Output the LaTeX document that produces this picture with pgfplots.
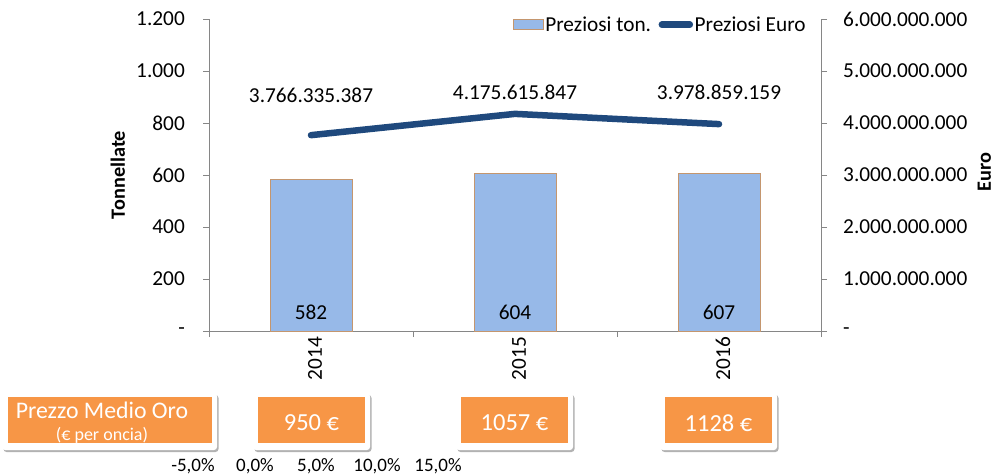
\documentclass[border=0pt]{standalone}
\usepackage{pgfplots}
\pgfplotsset{compat=1.18}
\usepackage{fontspec}
\setmainfont{Carlito}
\usetikzlibrary{shadows}

\definecolor{barblue}{RGB}{151,185,232}
\definecolor{baredge}{RGB}{196,150,110}
\definecolor{lineblue}{RGB}{31,73,125}
\definecolor{boxorange}{RGB}{247,150,70}
\definecolor{axisgray}{RGB}{134,134,134}

\begin{document}
\begin{tikzpicture}[x=1pt,y=1pt]
\path[use as bounding box] (0,0) rectangle (997,475);
\begin{axis}[
  at={(209pt,144pt)}, anchor=south west,
  scale only axis, width=612pt, height=312pt,
  xmin=-0.5, xmax=2.5, ymin=0, ymax=1200,
  axis y line*=left, axis x line*=bottom,
  axis line style={axisgray, line width=0.8pt},
  tick align=outside, major tick length=6pt,
  tick style={axisgray, line width=0.8pt},
  font=\fontsize{21.3}{25}\selectfont,
  x tick label as interval,
  xtick={-0.5,0.5,1.5,2.5},
  xticklabels={2014,2015,2016},
  xticklabel style={rotate=90, anchor=east, inner sep=0pt, yshift=-4pt},
  ytick={0,200,400,600,800,1000,1200},
  yticklabels={-\hspace{8pt},200,400,600,800,1.000,1.200},
  yticklabel style={anchor=east, inner sep=0pt, xshift=-18pt},
  scaled y ticks=false,
  ylabel={\bfseries Tonnellate},
  ylabel style={at={(axis description cs:-0.149,0.5)}, anchor=center, rotate=0,
    inner sep=0pt, font=\fontsize{20.3}{24}\selectfont},
]
\addplot[ybar, bar width=82pt, fill=barblue, draw=baredge, line width=1pt]
  coordinates {(0,582) (1,604) (2,607)};
\node at (axis cs:0,0) [yshift=19pt] {582};
\node at (axis cs:1,0) [yshift=19pt] {604};
\node at (axis cs:2,0) [yshift=19pt] {607};
\end{axis}
\begin{axis}[
  at={(209pt,144pt)}, anchor=south west,
  scale only axis, width=612pt, height=312pt,
  xmin=-0.5, xmax=2.5, ymin=0, ymax=6000000000,
  axis y line*=right, axis x line=none,
  axis line style={axisgray, line width=0.8pt},
  tick align=outside, major tick length=6pt,
  tick style={axisgray, line width=0.8pt},
  font=\fontsize{21.3}{25}\selectfont,
  ytick={0,1000000000,2000000000,3000000000,4000000000,5000000000,6000000000},
  yticklabels={-,1.000.000.000,2.000.000.000,3.000.000.000,4.000.000.000,5.000.000.000,6.000.000.000},
  yticklabel style={anchor=west, inner sep=0pt, xshift=16pt},
  scaled y ticks=false,
  ylabel={\bfseries Euro},
  ylabel style={at={(axis description cs:1.267,0.51)}, anchor=center, rotate=0,
    inner sep=0pt, font=\fontsize{20.3}{24}\selectfont},
  legend style={at={(axis description cs:0.496,1.013)}, anchor=north west,
    draw=none, fill=none, legend columns=2, inner sep=0pt,
    nodes={inner sep=1.5pt},
    /tikz/every even column/.append style={column sep=6pt}},
]
\addlegendimage{legend image code/.code={\draw[fill=barblue,draw=baredge,line width=1pt] (0pt,-5pt) rectangle (30pt,5pt);}}
\addlegendentry{Preziosi ton.}
\addplot[lineblue, line width=6.5pt, line cap=round, line join=round,
  legend image code/.code={\draw[lineblue,line width=6.5pt,line cap=round] (3pt,0pt) -- (31pt,0pt);}]
  coordinates {(0,3766335387) (1,4175615847) (2,3978859159)};
\addlegendentry{Preziosi Euro}
\node at (axis cs:0,4538000000) {3.766.335.387};
\node at (axis cs:1,4596000000) {4.175.615.847};
\node at (axis cs:2,4596000000) {3.978.859.159};
\end{axis}

% bottom boxes
\tikzset{frame/.style={fill=white, rounded corners=3pt,
  drop shadow={shadow xshift=1.5pt, shadow yshift=-2pt, opacity=0.3, fill=black}}}
\path[frame] (2,25) rectangle (217,82);
\fill[boxorange] (8,32) rectangle (212,78);
\node[white, font=\fontsize{23.8}{28}\selectfont] at (102,65) {Prezzo Medio Oro};
\node[white, font=\fontsize{18}{21}\selectfont] at (102,40) {(€ per oncia)};

\path[frame] (253,25) rectangle (370,82);
\fill[boxorange] (258,32) rectangle (365,78);
\node[white, font=\fontsize{24.5}{28}\selectfont] at (311.5,52) {950 €};

\path[frame] (456,25) rectangle (573,82);
\fill[boxorange] (461,32) rectangle (568,78);
\node[white, font=\fontsize{24.5}{28}\selectfont] at (514.5,52) {1057 €};

\path[frame] (660,25) rectangle (777,82);
\fill[boxorange] (665,32) rectangle (772,78);
\node[white, font=\fontsize{24.5}{28}\selectfont] at (718.5,52) {1128 €};

\node[font=\fontsize{19}{22}\selectfont] at (193,9) {-5,0\%};
\node[font=\fontsize{19}{22}\selectfont] at (255,9) {0,0\%};
\node[font=\fontsize{19}{22}\selectfont] at (316,9) {5,0\%};
\node[font=\fontsize{19}{22}\selectfont] at (377,9) {10,0\%};
\node[font=\fontsize{19}{22}\selectfont] at (438,9) {15,0\%};
\end{tikzpicture}
\end{document}
